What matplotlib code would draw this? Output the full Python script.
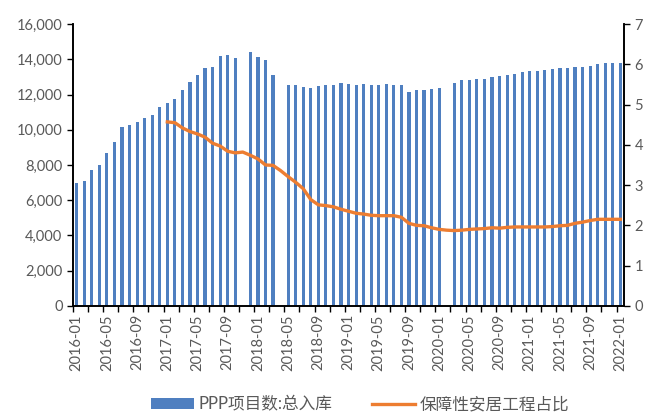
import numpy as np
import matplotlib
matplotlib.use("Agg")
import matplotlib.pyplot as plt
from matplotlib.ticker import FuncFormatter, FixedLocator

plt.rcParams['font.family'] = ['Lato', 'Noto Sans CJK SC', 'DejaVu Sans']

months = [f"{y}-{m:02d}" for y in range(2016, 2023) for m in range(1, 13)][:73]

# PPP项目数:总入库 (NaN = no data that month)
ppp = [6970, 7080, 7690, 8010, 8670, 9280, 10150, 10260, 10430, 10660, 10830, 11270,
       11530, 11740, 12250, 12700, 13120, 13500, 13560, 14170, 14240, 14050, np.nan, 14390,
       14130, 13960, 13120, np.nan, 12540, 12540, 12420, 12370, 12480, 12540, 12540, 12640,
       12590, 12530, 12580, 12520, 12520, 12580, 12520, 12520, 12140, 12250, 12250, 12310,
       12370, np.nan, 12650, 12800, 12800, 12900, 12900, 12970, 13070, 13120, 13180, 13300,
       13350, 13350, 13410, 13470, 13500, 13500, 13560, 13560, 13620, 13730, 13790, 13790,
       13790]

# 保障性安居工程占比, starts 2017-01
share = [np.nan] * 12 + [
    4.57, 4.55, 4.42, 4.33, 4.27, 4.19, 4.04, 3.97, 3.84, 3.80, 3.82, 3.74,
    3.65, 3.50, 3.49, 3.36, 3.21, 3.07, 2.91, 2.64, 2.51, 2.49, 2.46, 2.40,
    2.35, 2.30, 2.28, 2.25, 2.24, 2.24, 2.24, 2.20, 2.05, 2.00, 1.99, 1.94,
    1.90, 1.88, 1.87, 1.88, 1.90, 1.91, 1.92, 1.94, 1.93, 1.95, 1.96, 1.96,
    1.96, 1.96, 1.96, 1.97, 1.99, 2.00, 2.05, 2.08, 2.12, 2.15, 2.15, 2.15,
    2.15]

x = np.arange(len(months))
txt = '#595959'

fig = plt.figure(figsize=(6.57, 4.15), dpi=100)
ax = fig.add_axes([0.111, 0.263, 0.839, 0.679])
ax2 = ax.twinx()

ax.bar(x, ppp, width=0.42, color='#4F7FC0', label='PPP项目数:总入库')
ax2.plot(x, share, color='#ED7D31', linewidth=2.4, label='保障性安居工程占比')

ax.set_xlim(-0.5, len(months) - 0.5)
ax.set_ylim(0, 16000)
ax.set_yticks(range(0, 16001, 2000))
ax.yaxis.set_major_formatter(FuncFormatter(lambda v, p: f"{int(v):,}"))
ax2.set_ylim(0, 7)
ax2.set_yticks(range(0, 8))

# tick marks at category boundaries every 2 months, labels every 4 months
ax.xaxis.set_major_locator(FixedLocator(x[::4]))
ax.set_xticklabels(months[::4], rotation=90)
ax.xaxis.set_minor_locator(FixedLocator(np.arange(-0.5, len(months), 2)))
ax.tick_params(axis='x', which='major', length=0, pad=6)
ax.tick_params(axis='x', which='minor', length=4, width=1, direction='out')

for a in (ax, ax2):
    a.tick_params(axis='y', length=4, width=1, colors='black', labelcolor=txt, labelsize=10.5)
    a.spines['top'].set_visible(False)
    for s in ('left', 'right', 'bottom'):
        a.spines[s].set_color('black')
        a.spines[s].set_linewidth(1.2)
ax.tick_params(axis='x', labelcolor=txt, labelsize=10.5)

h1, l1 = ax.get_legend_handles_labels()
h2, l2 = ax2.get_legend_handles_labels()
fig.legend(h1 + h2, l1 + l2, loc='lower center', bbox_to_anchor=(0.548, -0.03), ncol=2,
           frameon=False, fontsize=12, labelcolor=txt, handlelength=2.6, columnspacing=2.4,
           handletextpad=0.25, handleheight=0.6)

fig.savefig('out.png', dpi=100)
